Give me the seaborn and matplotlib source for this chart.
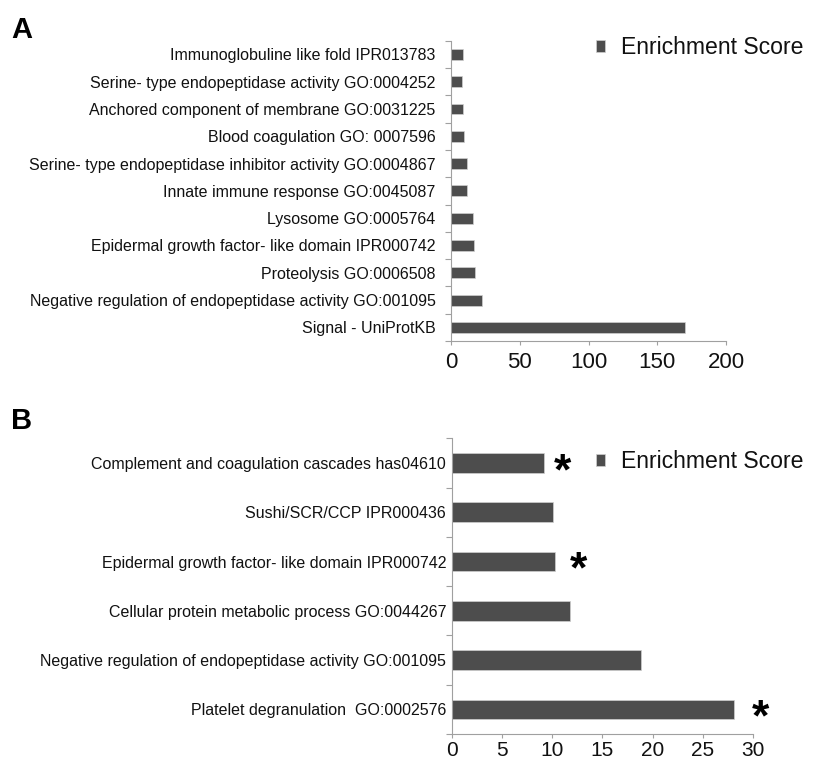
import numpy as np
import pandas as pd
import matplotlib
matplotlib.use('Agg')
import matplotlib.pyplot as plt
import seaborn as sns

sns.set_style('white')
plt.rcParams['font.family'] = ['Liberation Sans', 'DejaVu Sans']

# Panel A data (top to bottom)
terms_a = ['Immunoglobuline like fold IPR013783',
           'Serine- type endopeptidase activity GO:0004252',
           'Anchored component of membrane GO:0031225',
           'Blood coagulation GO: 0007596',
           'Serine- type endopeptidase inhibitor activity GO:0004867',
           'Innate immune response GO:0045087',
           'Lysosome GO:0005764',
           'Epidermal growth factor- like domain IPR000742',
           'Proteolysis GO:0006508',
           'Negative regulation of endopeptidase activity GO:001095',
           'Signal - UniProtKB']
scores_a = [8.5, 8.3, 8.7, 9.5, 11.9, 11.9, 15.8, 17.0, 17.7, 22.3, 170.4]

# Panel B data (top to bottom)
terms_b = ['Complement and coagulation cascades has04610',
           'Sushi/SCR/CCP IPR000436',
           'Epidermal growth factor- like domain IPR000742',
           'Cellular protein metabolic process GO:0044267',
           'Negative regulation of endopeptidase activity GO:001095',
           'Platelet degranulation  GO:0002576']
scores_b = [9.2, 10.1, 10.3, 11.8, 18.8, 28.1]
starred_b = [True, False, True, False, False, True]
star_gap = [13, 0, 17, 0, 0, 19]  # points right of bar end

bar_color = '#4d4d4d'
spine_color = '#a0a0a0'
text_color = '#111111'
plt.rcParams['text.color'] = text_color
plt.rcParams['xtick.color'] = text_color
plt.rcParams['ytick.color'] = text_color

fig = plt.figure(figsize=(8.14, 7.62), dpi=100)
ax_a = fig.add_axes([0.554, 0.5525, 0.338, 0.394])
ax_b = fig.add_axes([0.555, 0.0367, 0.370, 0.388])


def style_axis(ax, n, xmax, xstep, ypad, xsize, xpad):
    ax.set_xlim(0, xmax)
    ax.set_ylim(n - 0.5, -0.5)
    ax.set_xticks(np.arange(0, xmax + 1, xstep))
    ax.set_yticks(np.arange(-0.5, n, 1.0), minor=True)
    ax.tick_params(axis='y', which='major', length=0, pad=ypad, labelsize=11.5)
    ax.tick_params(axis='y', which='minor', length=4, width=0.8, color=spine_color, left=True)
    ax.tick_params(axis='x', which='major', length=3, width=0.8, color=spine_color,
                   bottom=True, labelsize=xsize, pad=xpad)
    for s in ['top', 'right']:
        ax.spines[s].set_visible(False)
    for s in ['left', 'bottom']:
        ax.spines[s].set_color(spine_color)
        ax.spines[s].set_linewidth(0.8)
    ax.set_xlabel('')
    ax.set_ylabel('')


df_a = pd.DataFrame({'term': terms_a, 'score': scores_a})
sns.barplot(data=df_a, x='score', y='term', orient='h', color=bar_color,
            width=0.4, edgecolor='#d0d0d0', linewidth=0.5, ax=ax_a,
            label='Enrichment Score')
style_axis(ax_a, len(terms_a), 200, 50, 11, 16, 5)

df_b = pd.DataFrame({'term': terms_b, 'score': scores_b})
sns.barplot(data=df_b, x='score', y='term', orient='h', color=bar_color,
            width=0.4, edgecolor='#d0d0d0', linewidth=0.5, ax=ax_b,
            label='Enrichment Score')
style_axis(ax_b, len(terms_b), 30, 5, 4, 15, 2)

for i, (v, s) in enumerate(zip(scores_b, starred_b)):
    if s:
        ax_b.annotate('*', xy=(v, i), xytext=(star_gap[i], -7), textcoords='offset points',
                      ha='center', va='center', fontsize=32, fontweight='bold',
                      color='black', annotation_clip=False)

for ax, y in [(ax_a, 1 - 48 / 762), (ax_b, 1 - 462 / 762)]:
    ax.legend(loc='center left', bbox_to_anchor=(596 / 814, y),
              bbox_transform=fig.transFigure, frameon=False, fontsize=16.6,
              handlelength=0.4, handleheight=0.4, handletextpad=0.7,
              borderpad=0, borderaxespad=0)

fig.text(11 / 814, 1 - 30 / 762, 'A', fontsize=21, fontweight='bold', va='center', color='black')
fig.text(11 / 814, 1 - 421 / 762, 'B', fontsize=21, fontweight='bold', va='center', color='black')

fig.savefig('out.png', dpi=100)
